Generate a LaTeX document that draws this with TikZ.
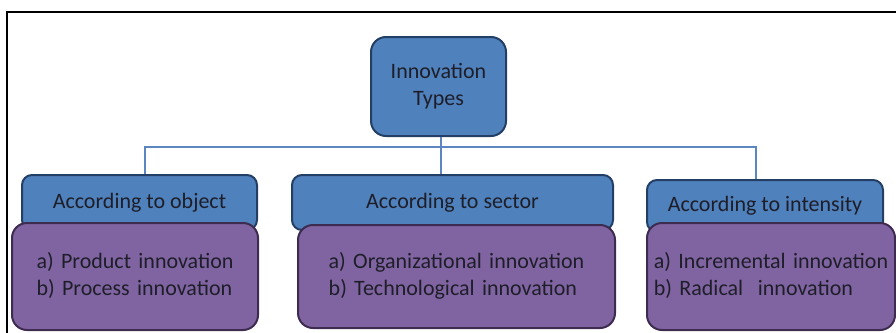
\documentclass[tikz,border=0pt]{standalone}
\usepackage{fontspec}
\setmainfont{Carlito}
\definecolor{bluefill}{HTML}{4F81BD}
\definecolor{bluedark}{HTML}{243F66}
\definecolor{purfill}{HTML}{8064A2}
\definecolor{purdark}{HTML}{3D2C50}
\definecolor{txt}{HTML}{1E1E28}
\definecolor{conncol}{HTML}{5B86C0}
\begin{document}
\begin{tikzpicture}[x=1pt,y=-1pt,
  box/.style={line width=2pt, inner sep=0pt, text=txt, font=\fontsize{22}{27}\selectfont, align=center},
  bluebox/.style={box, draw=bluedark, fill=bluefill, rounded corners=10pt},
  purbox/.style={box, draw=purdark, fill=purfill, rounded corners=15pt},
  conn/.style={draw=conncol, line width=1.5pt}
]
\useasboundingbox (0,0) rectangle (896,332);
\draw[line width=2pt, black] (7,345) -- (7,12) -- (905,12);

\node[bluebox, rounded corners=15pt, minimum width=135pt, minimum height=99pt] (T) at (438.5,86.5) {Innovation\\Types};

\coordinate (bus) at (441,147);
\coordinate (jL) at (145,147);
\coordinate (jR) at (756,147);

\node[bluebox, minimum width=235pt, minimum height=55pt] (b1) at (139.5,202.5) {According to object};
\node[bluebox, minimum width=321pt, minimum height=55pt] (b2) at (452.5,202.5) {According to sector};
\node[bluebox, minimum width=236pt, minimum height=52pt] (b3) at (765,206) {According to intensity};

\draw[conn] (T.south -| bus) -- (bus |- b2.north);
\draw[conn] (jL |- b1.north) -- (jL) -- (jR) -- (jR |- b3.north);

\node[purbox, minimum width=246pt, minimum height=107pt, text width=246pt] (p1) at (135,276.5) {\begin{tabular}{@{}l@{}}a) Product innovation\\b) Process innovation\end{tabular}};
\node[purbox, minimum width=317pt, minimum height=103pt, text width=317pt] (p2) at (456.5,276.5) {\begin{tabular}{@{}l@{}}a) Organizational innovation\\b) Technological innovation\end{tabular}};
\node[purbox, minimum width=248pt, minimum height=107pt, text width=248pt] (p3) at (771,276.5) {\begin{tabular}{@{}l@{}}a) Incremental innovation\\b) Radical\ \ innovation\end{tabular}};
\end{tikzpicture}
\end{document}
